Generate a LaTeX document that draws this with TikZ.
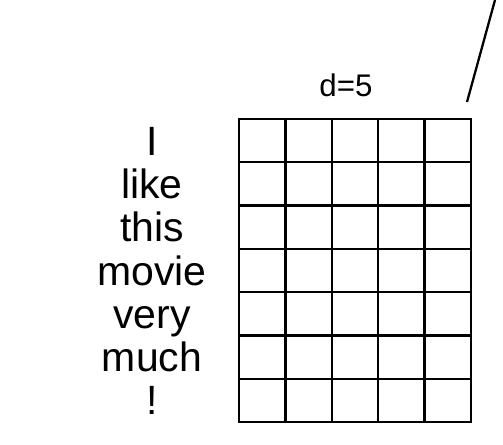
\documentclass[tikz,border=0pt]{standalone}
\usepackage{fontspec}
\setmainfont{Liberation Sans}
\usetikzlibrary{positioning}
\tikzset{
    word/.style={font=\fontsize{23.3}{23.3}\selectfont, inner sep=0pt, anchor=base},
    dimlabel/.style={font=\fontsize{17.8}{17.8}\selectfont, inner sep=0pt, anchor=base},
    cell/.style={rectangle, draw, line width=1.3pt, minimum width=0.928cm, minimum height=0.866cm, inner sep=0pt},
    edge/.style={line width=1.3pt}
}
\begin{document}
\begin{tikzpicture}[x=0.02cm, y=-0.02cm]
    \useasboundingbox (0,0) rectangle (503,445);
    % embedding matrix, 7 words x 5 dims
    \foreach \r in {0,...,6}
        \foreach \c in {0,...,4}
            \node[cell] (cell-\r-\c) at ({239+46.4*(\c+0.5)}, {119+43.29*(\r+0.5)}) {};
    \foreach \w [count=\i from 0] in {I,like,this,movie,very,much,!}
        \node[word] (word\i) at (152, {119+43.29*(\i+0.5)+14.5}) {\w};
    \node[dimlabel] (dim) at (346, 97) {d=5};
    % line going up to the right
    \coordinate (top) at (495,0);
    \coordinate (foot) at (467,102);
    \draw[edge] (foot) -- (top);
\end{tikzpicture}
\end{document}
